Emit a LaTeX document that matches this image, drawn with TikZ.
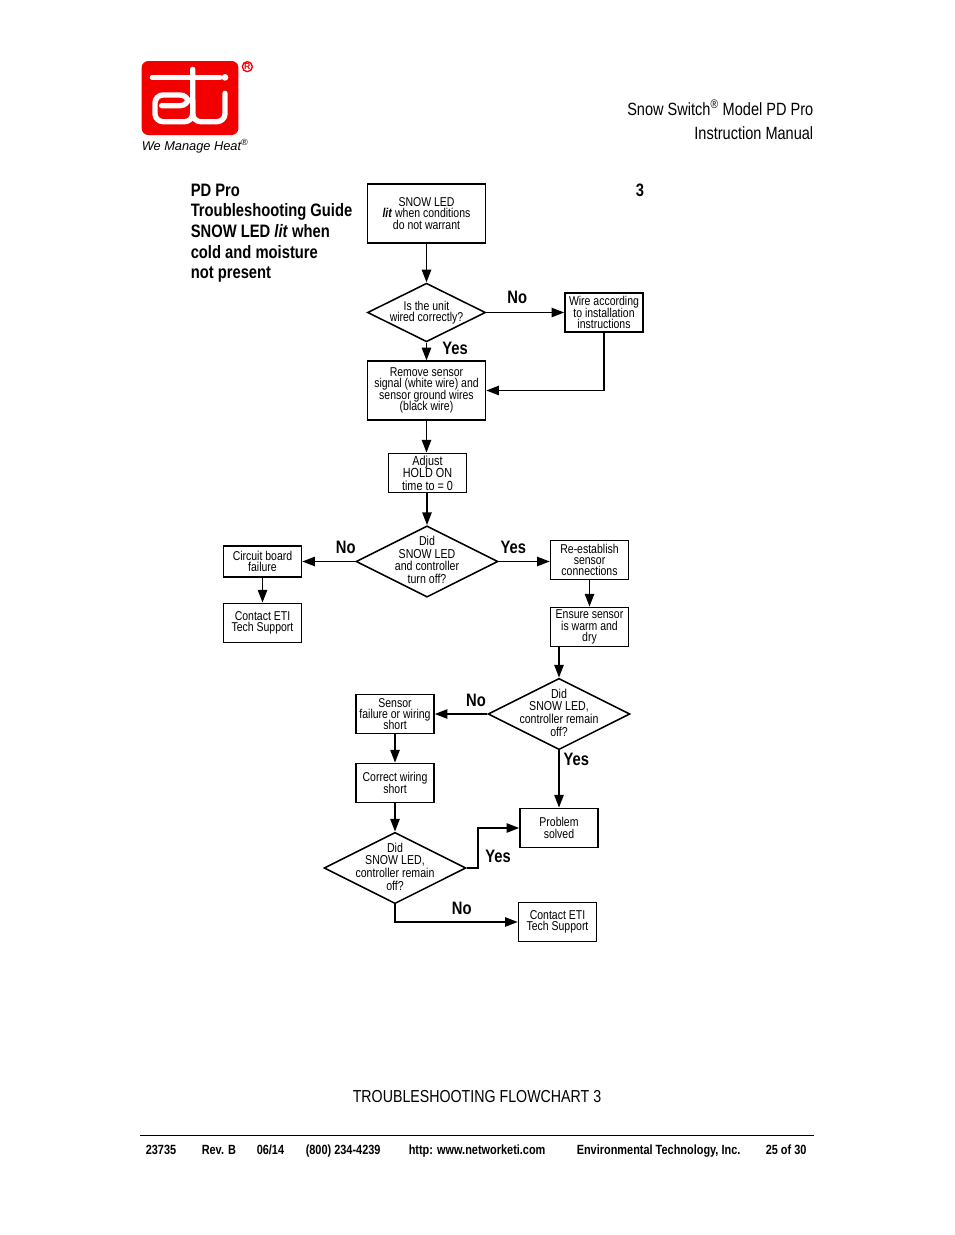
\documentclass[tikz,border=0pt]{standalone}
\usepackage{fontspec}
\setmainfont[FakeStretch=0.82]{Liberation Sans}
\newfontfamily\logofont{Liberation Sans}
\usetikzlibrary{arrows.meta,shapes.geometric}

\newcommand{\tightlines}{\lineskiplimit=-5pt\relax}

\tikzset{
box/.style={draw,rectangle,line width=1.15pt,inner sep=0pt,align=center,minimum width=58.5pt,minimum height=29.5pt,font=\fontsize{9.6}{8.5}\selectfont\tightlines},
tallbox/.style={box,minimum width=88.5pt,minimum height=44pt},
decision/.style={draw,diamond,line width=1.15pt,inner sep=0pt,minimum width=106.5pt,minimum height=53.5pt},
smalldecision/.style={decision,minimum width=88.5pt,minimum height=44pt},
decisiontext/.style={inner sep=0pt,align=center,yshift=1.2pt,font=\fontsize{9.7}{9.5}\selectfont\tightlines},
answer/.style={inner sep=0pt,font=\fontsize{13.5}{15}\selectfont\bfseries},
footer/.style={inner sep=0pt,anchor=base west,font=\fontsize{10}{10}\selectfont\bfseries}
}

\begin{document}
\begin{tikzpicture}[x=0.75pt,y=-0.75pt,->,>={Triangle[length=9.5pt,width=7pt]},line width=1.15pt]

\useasboundingbox(0,0)rectangle(954,1235);

% logo
\begin{scope}[shift={(120,40)},scale=1/3,-]
\fill[red!95!black,rounded corners=5pt](65,63)rectangle(355,285);
\draw[white,line width=4pt,line cap=round](97,112)--(300,112);
\draw[white,line width=4pt,line cap=round,rounded corners=6pt](125,197)--(205,197)--(205,165)--(105,165)--(105,245)--(218,245)--(218,88);
\draw[white,line width=4pt,line cap=round,rounded corners=6pt](218,180)--(218,245)--(315,245)--(315,160);
\fill[white](315,112)circle(10);
\draw[red!95!black,line width=1pt](382,80)circle(15);
\node[inner sep=0pt,text=red!95!black,font=\logofont\bfseries\fontsize{6.5}{6}\selectfont](regmark)at(382,80){R};
\end{scope}
\node[inner sep=0pt,anchor=base west,font=\logofont\itshape\fontsize{9.6}{10}\selectfont](slogan)at(141,150){We Manage Heat\textsuperscript{®}};

% header
\node[inner sep=0pt,anchor=base east,align=right,font=\fontsize{13.3}{18}\selectfont](manual)at(814,139){Snow Switch\textsuperscript{®} Model PD Pro\\Instruction Manual};
\node[inner sep=0pt,anchor=north west,align=left,font=\fontsize{13.5}{15.5}\selectfont\bfseries](guide)at(190,183){PD Pro\\Troubleshooting Guide\\SNOW LED \textit{lit} when\\cold and moisture\\not present};
\node[answer](chartno)at(640,190){3};

% flow
\node[tallbox](snow)at(426.5,213.5){SNOW LED\\\textbf{\textit{lit}} when conditions\\do not warrant};
\node[smalldecision,label={[decisiontext,yshift=-1.2pt,font=\fontsize{9.6}{8.6}\selectfont\tightlines]center:Is the unit\\wired correctly?}](wired)at(426.5,312.5){};
\node[box](wire)at(604,312.5){Wire according\\to installation\\instructions};
\node[tallbox](remove)at(426.5,390.5){Remove sensor\\signal (white wire) and\\sensor ground wires\\(black wire)};
\node[box,font=\fontsize{9.9}{9.3}\selectfont\tightlines](adjust)at(427.5,473){Adjust\\HOLD ON\\time to = 0};
\node[decision,label={[decisiontext]center:Did\\SNOW LED\\and controller\\turn off?}](didone)at(427,561.5){};
\node[box,minimum height=23pt](circuit)at(262.5,561.5){Circuit board\\failure};
\node[box](contactone)at(262.5,623){Contact ETI\\Tech Support};
\node[box](reestablish)at(589.5,560){Re-establish\\sensor\\connections};
\node[box](ensure)at(589.5,627){Ensure sensor\\is warm and\\dry};
\node[decision,label={[decisiontext]center:Did\\SNOW LED,\\controller remain\\off?}](didtwo)at(559,714){};
\node[box](sensor)at(395,714){Sensor\\failure or wiring\\short};
\node[box](correct)at(395,783){Correct wiring\\short};
\node[decision,label={[decisiontext]center:Did\\SNOW LED,\\controller remain\\off?}](didthree)at(395,868){};
\node[box](problem)at(559,828){Problem\\solved};
\node[box](contacttwo)at(557.5,922){Contact ETI\\Tech Support};
\coordinate(bend)at(478,868);

\path(snow)edge(wired)
(wired)edge node[answer,xshift=-6pt,yshift=11pt]{No}(wire)
edge node[answer,xshift=21.4pt,yshift=2.6pt]{Yes}(remove)
(remove)edge(remove|-adjust.north)
(adjust.south-|didone.north)edge(didone)
(didone)edge node[answer,xshift=12.75pt,yshift=10.9pt]{No}(circuit)
edge node[answer,xshift=-8.25pt,yshift=10.5pt]{Yes}(didone-|reestablish.west)
(circuit)edge(contactone)
(reestablish)edge(ensure)
(ensure.south-|didtwo.north)edge(didtwo)
(didtwo)edge node[answer,xshift=11.25pt,yshift=10.5pt]{No}(sensor)
edge node[answer,xshift=13pt,yshift=15pt]{Yes}(problem)
(sensor)edge(correct)
(correct)edge(didthree);

\draw(wire.south)|-(remove.east);
\draw(didthree.east)--(bend)node[answer,xshift=15pt,yshift=9pt]{Yes}|-(problem.west);
\draw(didthree.south)|-node[answer,pos=0.75,xshift=4pt,yshift=10.5pt]{No}(contacttwo.west);

% caption and footer
\node[inner sep=0pt,font=\fontsize{13}{15}\selectfont](caption)at(477,1097){TROUBLESHOOTING FLOWCHART 3};
\draw[-,line width=0.6pt](140,1135)--(814,1135);
\node[footer](partno)at(145,1154){23735};
\node[footer](rev)at(201,1154){Rev. B};
\node[footer](date)at(256,1154){06/14};
\node[footer](phone)at(305,1154){(800) 234-4239};
\node[footer](web)at(408,1154){http: www.networketi.com};
\node[footer](company)at(576,1154){Environmental Technology, Inc.};
\node[footer](page)at(765,1154){25 of 30};

\end{tikzpicture}
\end{document}
